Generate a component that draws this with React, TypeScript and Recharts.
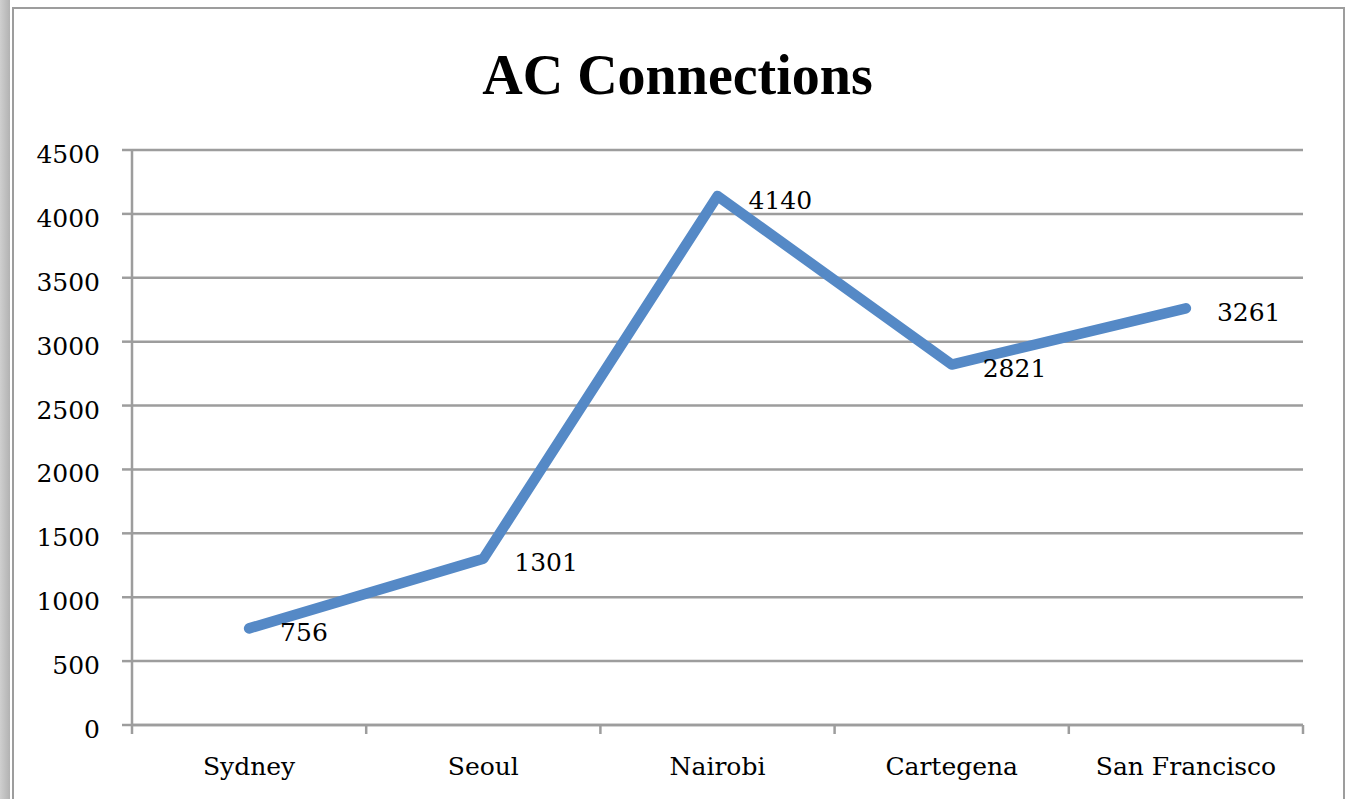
import React from 'react';
import { LineChart, Line, XAxis, YAxis, CartesianGrid, LabelList } from 'recharts';

const categories = ['Sydney', 'Seoul', 'Nairobi', 'Cartegena', 'San Francisco'];
const connections = [756, 1301, 4140, 2821, 3261];
const yTicks = [0, 500, 1000, 1500, 2000, 2500, 3000, 3500, 4000, 4500];
const title = 'AC Connections';

const data = categories.map((name, i) => ({ name, pos: i + 0.5, value: connections[i] }));
const xTicks: number[] = [];
for (let i = 0; i <= categories.length * 2; i++) xTicks.push(i / 2);

const GRAY = '#9d9d9d';
const BLUE = '#5589c6';
const FONT = '"DejaVu Serif", serif';

const XTick = (props: any) => {
  const { x, y, payload } = props;
  const v = payload.value as number;
  if (Number.isInteger(v)) {
    return <line x1={x} y1={y} x2={x} y2={y + 9} stroke={GRAY} strokeWidth={2.5} />;
  }
  return (
    <text x={x} y={y + 50} textAnchor="middle" fontFamily={FONT} fontSize={25} fill="#000">
      {categories[Math.floor(v)]}
    </text>
  );
};

const YTick = (props: any) => {
  const { x, y, payload } = props;
  return (
    <text x={x} y={y + 13} textAnchor="end" fontFamily={FONT} fontSize={25} fill="#000">
      {payload.value}
    </text>
  );
};

const ValueLabel = (props: any) => {
  const { x, y, value } = props;
  return (
    <text x={x + 31} y={y + 12.5} textAnchor="start" fontFamily={FONT} fontSize={25} fill="#000">
      {value}
    </text>
  );
};

export default function App() {
  return (
    <div style={{ position: 'absolute', left: 0, top: 0, width: 1345, height: 799, background: '#fff', overflow: 'hidden' }}>
      <div style={{ position: 'absolute', left: 0, top: 0, width: 10, height: 799, background: 'linear-gradient(to right, #cfcfcf, #b2b2b2)' }} />
      <div style={{ position: 'absolute', left: 12, top: 7, width: 1329, height: 820, border: `2.5px solid ${GRAY}`, background: '#fff' }} />
      <svg style={{ position: 'absolute', left: 0, top: 0 }} width={1345} height={120}>
        <text x={677.5} y={93.5} textAnchor="middle" fontFamily='"Liberation Serif", serif' fontWeight="bold" fontSize={56} fill="#000">
          {title}
        </text>
      </svg>
      <div style={{ position: 'absolute', left: 0, top: 0 }}>
        <LineChart width={1345} height={799} data={data} margin={{ top: 150, right: 42, bottom: 14, left: 0 }}>
          <CartesianGrid horizontal vertical={false} stroke={GRAY} strokeWidth={2.5} />
          <XAxis
            dataKey="pos"
            type="number"
            domain={[0, categories.length]}
            ticks={xTicks}
            interval={0}
            tickLine={false}
            tickSize={0}
            tickMargin={0}
            height={60}
            axisLine={{ stroke: GRAY, strokeWidth: 2.5 }}
            tick={<XTick />}
          />
          <YAxis
            type="number"
            domain={[0, 4500]}
            ticks={yTicks}
            interval={0}
            width={132}
            tickSize={10}
            tickMargin={22}
            tickLine={{ stroke: GRAY, strokeWidth: 2.5 }}
            axisLine={{ stroke: GRAY, strokeWidth: 2.5 }}
            tick={<YTick />}
          />
          <Line
            type="linear"
            dataKey="value"
            stroke={BLUE}
            strokeWidth={10.5}
            strokeLinecap="round"
            strokeLinejoin="round"
            dot={false}
            activeDot={false}
            isAnimationActive={false}
          >
            <LabelList dataKey="value" content={<ValueLabel />} />
          </Line>
        </LineChart>
      </div>
    </div>
  );
}
